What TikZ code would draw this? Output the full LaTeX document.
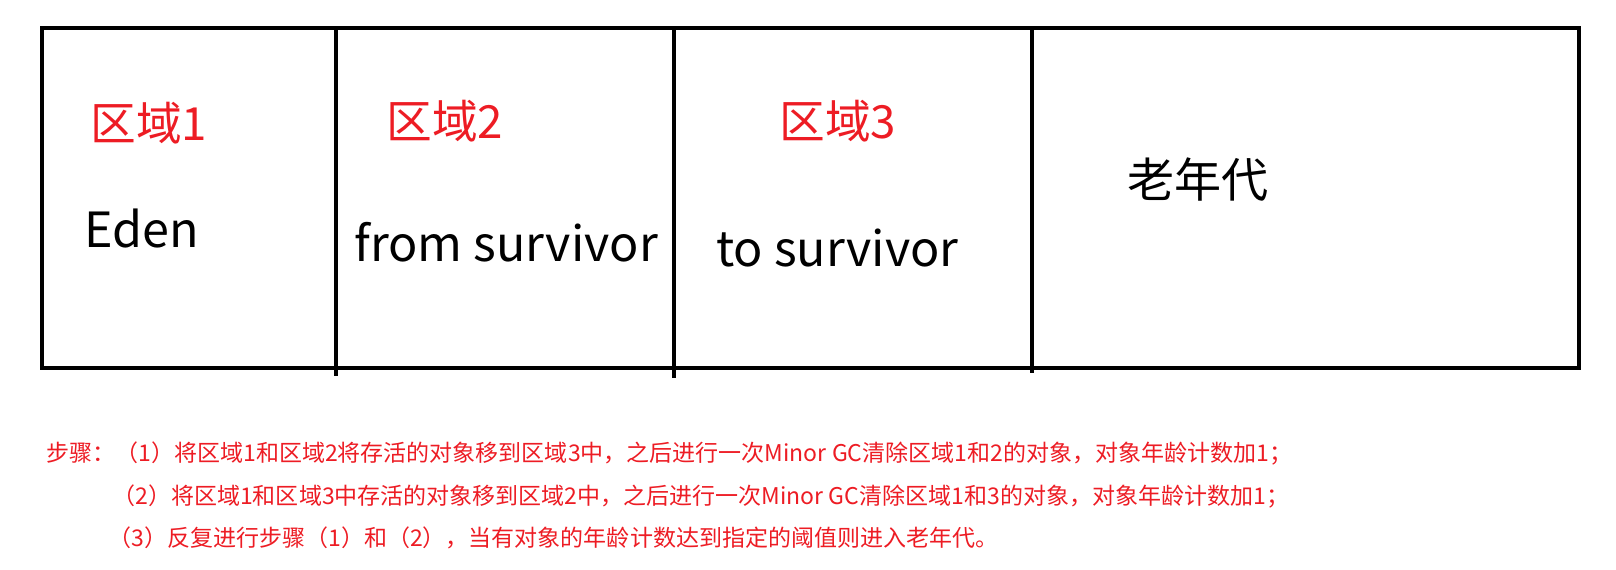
\documentclass[tikz,border=0pt]{standalone}
\usepackage{fontspec}
\setmainfont{Noto Sans CJK SC}
\usetikzlibrary{positioning}
\definecolor{paintred}{RGB}{237,28,36}
\tikzset{
  wall/.style={
    line width=2.5pt,
    line cap=rect
  },
  region/.style={
    text=paintred,
    font=\fontsize{26}{30}\selectfont,
    anchor=west,
    inner sep=0pt
  },
  space/.style={
    font=\fontsize{27.6}{34}\selectfont,
    anchor=base west,
    inner sep=0pt
  },
  steptext/.style={
    text=paintred,
    font=\fontsize{13.1}{16}\selectfont,
    anchor=west,
    inner sep=0pt
  }
}

\begin{document}
\begin{tikzpicture}[x=0.02cm,y=-0.02cm]
        \useasboundingbox (0,0) rectangle (1616,570);

        % heap box
        \draw[wall] (42,28) rectangle (1579,368);
        \draw[wall] (336,28) --++ (0,346);
        \draw[wall] (674,28) --++ (0,348);
        \draw[wall] (1032,28) --++ (0,343);

        \node[region] (r1) at (90,123) {区域1};
        \node[region] (r2) at (386,121) {区域2};
        \node[region] (r3) at (779,121) {区域3};

        \node[space] (eden) at (84,248) {Eden};
        \node[space] (from) at (354,262) {from survivor};
        \node[space] (to) at (716,267) {to survivor};
        \node[region, text=black, font=\fontsize{26.8}{32}\selectfont] (old) at (1127,180) {老年代};

        % steps
        \node[steptext] (s1) at (46,454) {步骤：（1）将区域1和区域2将存活的对象移到区域3中，之后进行一次Minor GC清除区域1和2的对象，对象年龄计数加1；};
        \node[steptext] (s2) at (112,497) {（2）将区域1和区域3中存活的对象移到区域2中，之后进行一次Minor GC清除区域1和3的对象，对象年龄计数加1；};
        \node[steptext] (s3) at (108,538) {（3）反复进行步骤（1）和（2），当有对象的年龄计数达到指定的阈值则进入老年代。};
\end{tikzpicture}
\end{document}
